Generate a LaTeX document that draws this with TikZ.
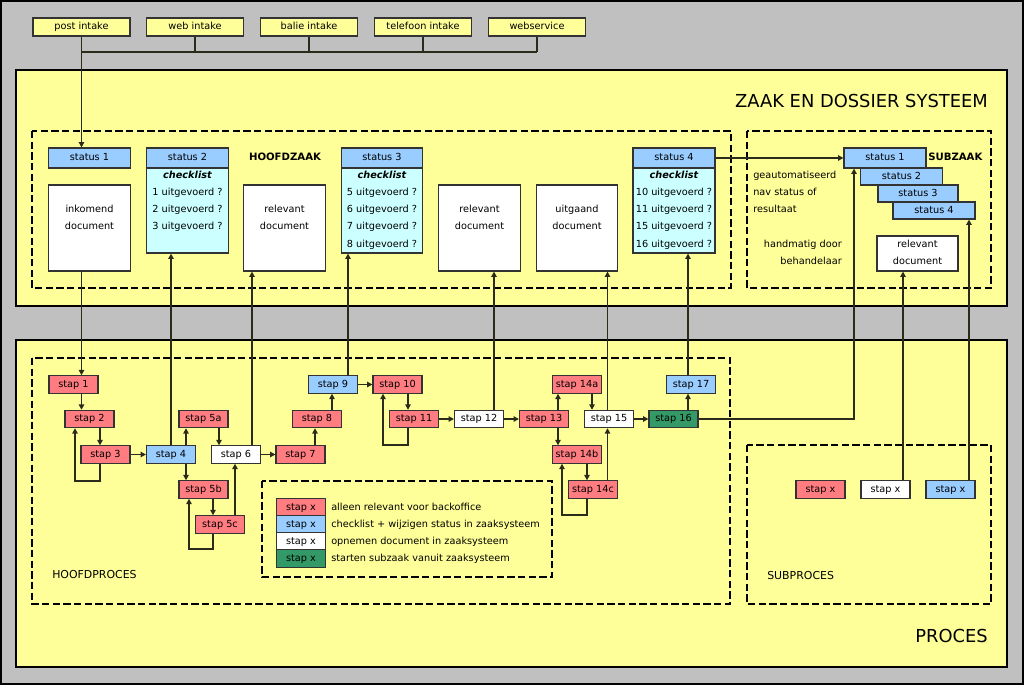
\documentclass[tikz,border=0pt]{standalone}
\usepackage{fontspec}
\setmainfont{DejaVu Sans}
\usetikzlibrary{arrows.meta}
\definecolor{bgc}{HTML}{C0C0C0}
\definecolor{yel}{HTML}{FFFF99}
\definecolor{bluec}{HTML}{99CCFF}
\definecolor{cyanc}{HTML}{CCFFFF}
\definecolor{redc}{HTML}{FF7C80}
\definecolor{greenc}{HTML}{339966}
\definecolor{bord}{HTML}{333333}
\definecolor{lnc}{HTML}{2B2B1C}
\newcommand\fs{\fontsize{7.3}{8}\selectfont}
\newcommand\bigfs{\fontsize{13.4}{15}\selectfont}
\newcommand\midfs{\fontsize{8.2}{9}\selectfont}
\newcommand\bfs{\fontsize{7.6}{9}\selectfont}
\begin{document}
\begin{tikzpicture}[x=0.75pt,y=-0.75pt,
  every node/.style={font=\fs},
  bx/.style={draw=bord, line width=0.8pt, inner sep=0pt, text height=5.3pt, text depth=1.5pt},
  stapbox/.style={bx, minimum width=36.75pt, minimum height=13pt},
  sred/.style={stapbox, fill=redc},
  sblue/.style={stapbox, fill=bluec},
  swhite/.style={stapbox, fill=white},
  sgreen/.style={stapbox, fill=greenc},
  intake/.style={bx, fill=yel, minimum width=72.75pt, minimum height=13.5pt},
  stat/.style={bx, fill=bluec, minimum width=61pt, minimum height=15pt},
  chk/.style={bx, fill=cyanc, minimum width=61pt, minimum height=78.75pt},
  doc/.style={bx, fill=white, minimum width=61pt, minimum height=64.5pt},
  txt/.style={inner sep=0pt, text height=5.3pt, text depth=1.5pt},
  ln/.style={draw=lnc, line width=1pt},
  arr/.style={ln, -{Triangle[length=4pt,width=4pt]}},
  dbox/.style={draw=black, line width=1.5pt, dash pattern=on 5.5pt off 2.5pt},
  panel/.style={draw=black, fill=yel, line width=0.8pt}
]
\useasboundingbox (0,0) rectangle (1024,685);
\fill[bgc] (0,0) rectangle (1024,685);
\draw[black, line width=1pt] (1,1) rectangle (1023,684);

% panels
\draw[panel] (16,70) rectangle (1007,306);
\draw[panel] (16,340) rectangle (1007,667);
\draw[dbox] (32,131) rectangle (731,288);
\draw[dbox] (747,131) rectangle (991,288);
\draw[dbox] (32,358) rectangle (730,604);
\draw[dbox] (747,445) rectangle (991,604);
\draw[dbox] (262,481) rectangle (552,577);

% titles
\node[txt, anchor=east, font=\bigfs, text height=9.8pt, text depth=0pt] (t1) at (988,101) {ZAAK EN DOSSIER SYSTEEM};
\node[txt, anchor=east, font=\bigfs, text height=9.8pt, text depth=0pt] (t2) at (988,636) {PROCES};
\node[txt, font=\bfs\bfseries] (hz) at (285,158) {HOOFDZAAK};
\node[txt, anchor=west, font=\bfs\bfseries] (sz) at (928,158) {SUBZAAK};
\node[txt, anchor=west, font=\midfs] (hp) at (52,576) {HOOFDPROCES};
\node[txt, anchor=west, font=\midfs] (sp) at (767,577) {SUBPROCES};

% intake
\node[intake] (post) at (81.5,27) {post intake};
\node[intake] (web) at (195,27) {web intake};
\node[intake] (balie) at (309,27) {balie intake};
\node[intake] (tel) at (423,27) {telefoon intake};
\node[intake] (wsvc) at (537,27) {webservice};

% hoofdzaak
\node[stat] (st1) at (89.5,158) {status 1};
\node[doc] (ink) at (89.5,228) {};
\node[txt] (inkt1) at (89.5,210) {inkomend};
\node[txt] (inkt2) at (89.5,227) {document};

\node[chk] (st2) at (187.5,200.5) {};
\node[stat] (st2h) at (187.5,158) {status 2};
\node[txt, font=\fs\bfseries\itshape] (c2) at (187.5,176) {checklist};
\node[txt] (c2a) at (187.5,193) {1 uitgevoerd ?};
\node[txt] (c2b) at (187.5,210) {2 uitgevoerd ?};
\node[txt] (c2c) at (187.5,227) {3 uitgevoerd ?};

\node[doc] (rd1) at (284.5,228) {};
\node[txt] (rd1a) at (284.5,210) {relevant};
\node[txt] (rd1b) at (284.5,227) {document};

\node[chk] (st3) at (382,200.5) {};
\node[stat] (st3h) at (382,158) {status 3};
\node[txt, font=\fs\bfseries\itshape] (c3) at (382,176) {checklist};
\node[txt] (c3a) at (382,193) {5 uitgevoerd ?};
\node[txt] (c3b) at (382,210) {6 uitgevoerd ?};
\node[txt] (c3c) at (382,227) {7 uitgevoerd ?};
\node[txt] (c3d) at (382,244.5) {8 uitgevoerd ?};

\node[doc] (rd2) at (479.5,228) {};
\node[txt] (rd2a) at (479.5,210) {relevant};
\node[txt] (rd2b) at (479.5,227) {document};

\node[doc] (uit) at (577,228) {};
\node[txt] (uita) at (577,210) {uitgaand};
\node[txt] (uitb) at (577,227) {document};

\node[chk, minimum width=61.5pt] (st4) at (674,200.5) {};
\node[stat, minimum width=61.5pt] (st4h) at (674,158) {status 4};
\node[txt, font=\fs\bfseries\itshape] (c4) at (674,176) {checklist};
\node[txt] (c4a) at (674,193) {10 uitgevoerd ?};
\node[txt] (c4b) at (674,210) {11 uitgevoerd ?};
\node[txt] (c4c) at (674,227) {15 uitgevoerd ?};
\node[txt] (c4d) at (674,244.5) {16 uitgevoerd ?};

% subzaak
\node[stat, minimum width=61.5pt] (sst1) at (885,158) {status 1};
\node[stat, minimum width=61pt, minimum height=12.75pt] (sst2) at (901.5,176.5) {status 2};
\node[stat, minimum width=60pt, minimum height=12.75pt] (sst3) at (918,193.5) {status 3};
\node[stat, minimum width=61.5pt, minimum height=12.75pt] (sst4) at (934,210.5) {status 4};
\node[txt, anchor=west] (g1) at (753,176) {geautomatiseerd};
\node[txt, anchor=west] (g2) at (753,193) {nav status of};
\node[txt, anchor=west] (g3) at (753,210) {resultaat};
\node[txt, anchor=east] (h1) at (842,245) {handmatig door};
\node[txt, anchor=east] (h2) at (842,262) {behandelaar};
\node[bx, fill=white, minimum width=60.75pt, minimum height=26.25pt] (sdoc) at (917.5,253.5) {};
\node[txt] (sdoca) at (917.5,245) {relevant};
\node[txt] (sdocb) at (917.5,262) {document};

% hoofdproces steps
\node[sred] (s1) at (73.5,384.5) {stap 1};
\node[sred] (s2) at (89.5,419) {stap 2};
\node[sred] (s3) at (105.5,454.5) {stap 3};
\node[sblue] (s4) at (171,454.5) {stap 4};
\node[sred] (s5a) at (203.5,419) {stap 5a};
\node[swhite] (s6) at (236,454.5) {stap 6};
\node[sred] (s7) at (300.5,454.5) {stap 7};
\node[sred] (s8) at (317,419) {stap 8};
\node[sblue] (s9) at (333,384.5) {stap 9};
\node[sred] (s5b) at (203.5,489.5) {stap 5b};
\node[sred] (s5c) at (220,524.5) {stap 5c};
\node[sred] (s10) at (397.5,384.5) {stap 10};
\node[sred] (s11) at (414,419) {stap 11};
\node[swhite] (s12) at (479,419) {stap 12};
\node[sred] (s13) at (544,419) {stap 13};
\node[sred] (s14a) at (577,384.5) {stap 14a};
\node[swhite] (s15) at (609,419) {stap 15};
\node[sgreen] (s16) at (673.5,419) {stap 16};
\node[sblue] (s17) at (691,384.5) {stap 17};
\node[sred] (s14b) at (577,454.5) {stap 14b};
\node[sred] (s14c) at (593,489.5) {stap 14c};

% legend
\node[sred] (l1) at (301,507.5) {stap x};
\node[sblue] (l2) at (301,524.5) {stap x};
\node[swhite] (l3) at (301,541.5) {stap x};
\node[sgreen] (l4) at (301,558.5) {stap x};
\node[txt, anchor=west] (lt1) at (331,507.5) {alleen relevant voor backoffice};
\node[txt, anchor=west] (lt2) at (331,524.5) {checklist + wijzigen status in zaaksysteem};
\node[txt, anchor=west] (lt3) at (331,541.5) {opnemen document in zaaksysteem};
\node[txt, anchor=west] (lt4) at (331,558.5) {starten subzaak vanuit zaaksysteem};

% subproces
\node[sred] (subr) at (820.5,489.5) {stap x};
\node[swhite] (subw) at (885.5,489.5) {stap x};
\node[sblue] (subb) at (950.5,489.5) {stap x};

% intake connectors
\draw[ln] (web.south) -- (web.south |- 0,52);
\draw[ln] (balie.south) -- (balie.south |- 0,52);
\draw[ln] (tel.south) -- (tel.south |- 0,52);
\draw[ln] (wsvc.south) -- (wsvc.south |- 0,52);
\draw[ln] (post.south |- 0,52) -- (wsvc.south |- 0,52);
\draw[arr] (post.south) -- (post.south |- st1.north);

% zaak <-> proces
\draw[arr] (81.5,0 |- ink.south) -- (81.5,0 |- s1.north);
\draw[arr] (171,0 |- s4.north) -- (171,0 |- st2.south);
\draw[arr] (252,0 |- s6.north) -- (252,0 |- rd1.south);
\draw[arr] (348,0 |- s9.north) -- (348,0 |- st3.south);
\draw[arr] (494,0 |- s12.north) -- (494,0 |- rd2.south);
\draw[arr] (607.5,0 |- s15.north) -- (607.5,0 |- uit.south);
\draw[arr] (688,0 |- s17.north) -- (688,0 |- st4.south);
\draw[arr] (st4h.east) -- (sst1.west);
\draw[arr] (s16.east) -| (854,0 |- sst1.south);
\draw[arr] (903,0 |- subw.north) -- (903,0 |- sdoc.south);
\draw[arr] (969,0 |- subb.north) -- (969,0 |- sst4.south);

% process flow
\draw[arr] (81.5,0 |- s1.south) -- (81.5,0 |- s2.north);
\draw[arr] (100,0 |- s2.south) -- (100,0 |- s3.north);
\draw[arr] (100,0 |- s3.south) -- (100,481) -- (75,481) -- (75,0 |- s2.south);
\draw[arr] (s3.east) -- (s4.west);
\draw[arr] (186,0 |- s4.north) -- (186,0 |- s5a.south);
\draw[arr] (186,0 |- s4.south) -- (186,0 |- s5b.north);
\draw[arr] (219,0 |- s5a.south) -- (219,0 |- s6.north);
\draw[arr] (213,0 |- s5b.south) -- (213,0 |- s5c.north);
\draw[arr] (213,0 |- s5c.south) -- (213,549) -- (189,549) -- (189,0 |- s5b.south);
\draw[arr] (235,0 |- s5c.north) -- (235,0 |- s6.south);
\draw[arr] (s6.east) -- (s7.west);
\draw[arr] (315,0 |- s7.north) -- (315,0 |- s8.south);
\draw[arr] (332,0 |- s8.north) -- (332,0 |- s9.south);
\draw[arr] (s9.east) -- (s10.west);
\draw[arr] (408,0 |- s10.south) -- (408,0 |- s11.north);
\draw[arr] (408,0 |- s11.south) -- (408,445) -- (383,445) -- (383,0 |- s10.south);
\draw[arr] (s11.east) -- (s12.west);
\draw[arr] (s12.east) -- (s13.west);
\draw[arr] (558,0 |- s13.north) -- (558,0 |- s14a.south);
\draw[arr] (558,0 |- s13.south) -- (558,0 |- s14b.north);
\draw[arr] (592,0 |- s14a.south) -- (592,0 |- s15.north);
\draw[arr] (587,0 |- s14b.south) -- (587,0 |- s14c.north);
\draw[arr] (587,0 |- s14c.south) -- (587,515) -- (562,515) -- (562,0 |- s14b.south);
\draw[arr] (607.5,0 |- s14c.north) -- (607.5,0 |- s15.south);
\draw[arr] (s15.east) -- (s16.west);
\draw[arr] (688,0 |- s16.north) -- (688,0 |- s17.south);
\end{tikzpicture}
\end{document}
